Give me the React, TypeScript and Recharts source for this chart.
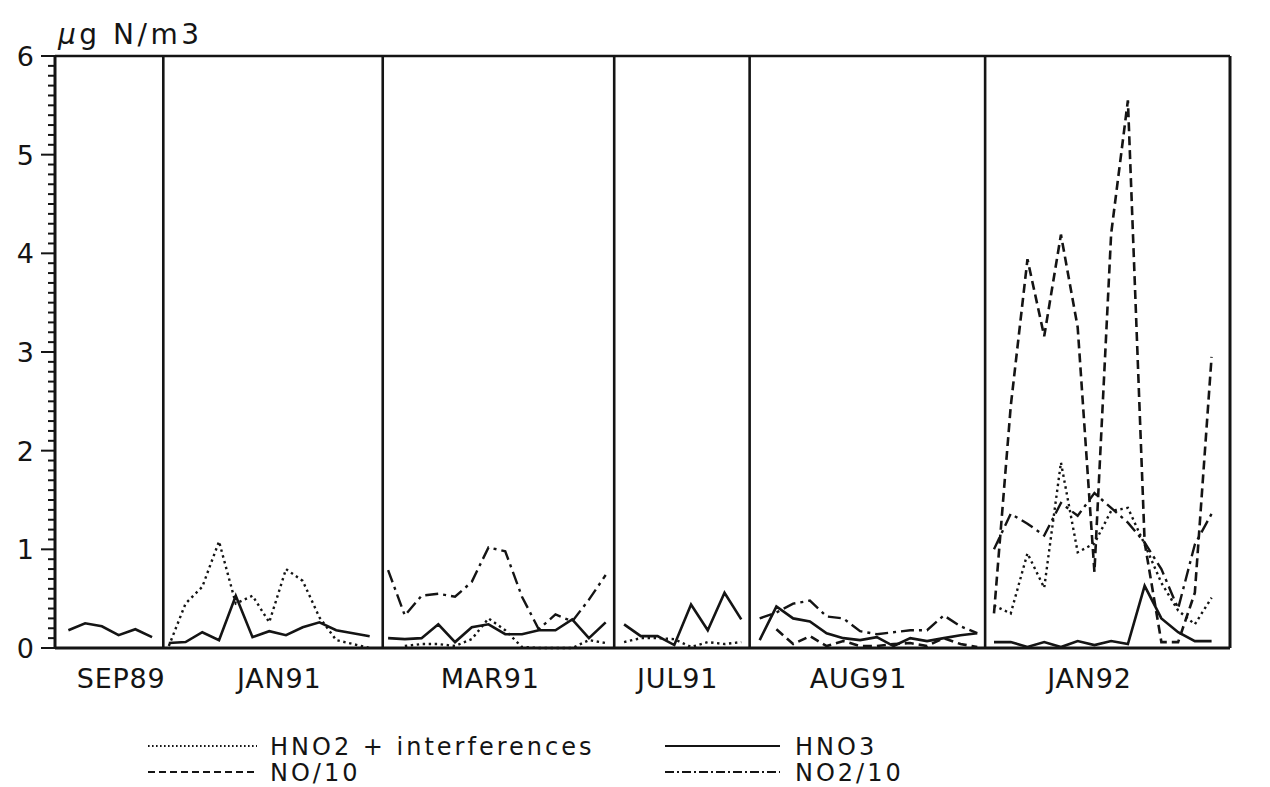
import React from 'react';
import { LineChart, Line, XAxis, YAxis, ReferenceLine, Legend } from 'recharts';

// Measurement campaigns and the sample position of each campaign's first sample
const campaigns = ['SEP89', 'JAN91', 'MAR91', 'JUL91', 'AUG91', 'JAN92'];
const campaignStart = [0.8, 6.8, 19.9, 34.0, 42.1, 56.1];
// Panel separators between campaigns, and the right end of the axis
const panelEdges = [6.47, 19.58, 33.41, 41.5, 55.57];
const axisEnd = 70.2;
// Where each campaign name sits under its panel
const campaignLabelPos = [3.95, 13.4, 26.0, 37.2, 48.0, 61.8];

// Y axis labels (µg N/m3)
const yLabels = [0, 1, 2, 3, 4, 5, 6];

// Concentrations per campaign (µg N/m3); null = no value for that sample
const hno2: (number | null)[][] = [
  [],
  [0.02, 0.45, 0.62, 1.08, 0.45, 0.53, 0.26, 0.8, 0.68, 0.31, 0.08, 0.04, 0.0],
  [null, 0.02, 0.04, 0.04, 0.02, 0.09, 0.3, 0.18, 0.01, 0.0, 0.0, 0.0, 0.08, 0.05],
  [0.06, 0.1, 0.1, 0.09, 0.01, 0.06, 0.04, 0.06],
  [],
  [0.43, 0.35, 0.96, 0.61, 1.88, 0.97, 1.06, 1.39, 1.42, 1.05, 0.66, 0.38, 0.24, 0.51],
];

const hno3: (number | null)[][] = [
  [0.18, 0.25, 0.22, 0.13, 0.19, 0.11],
  [0.05, 0.06, 0.16, 0.08, 0.53, 0.11, 0.17, 0.13, 0.21, 0.26, 0.18, 0.15, 0.12],
  [0.1, 0.09, 0.1, 0.24, 0.06, 0.21, 0.24, 0.14, 0.14, 0.18, 0.18, 0.29, 0.1, 0.26],
  [0.24, 0.12, 0.12, 0.03, 0.44, 0.18, 0.56, 0.29],
  [0.08, 0.42, 0.3, 0.27, 0.15, 0.1, 0.08, 0.11, 0.02, 0.1, 0.07, 0.1, 0.13, 0.15],
  [0.06, 0.06, 0.01, 0.06, 0.01, 0.07, 0.03, 0.07, 0.04, 0.63, 0.3, 0.16, 0.07, 0.07],
];

const no10: (number | null)[][] = [
  [],
  [],
  [],
  [],
  [null, 0.19, 0.04, 0.12, 0.02, 0.07, 0.02, 0.02, 0.04, 0.05, 0.02, 0.1, 0.04, 0.01],
  [0.35, 2.45, 3.94, 3.16, 4.19, 3.25, 0.77, 4.2, 5.55, 1.07, 0.06, 0.06, 0.56, 2.95],
];

const no2_10: (number | null)[][] = [
  [],
  [],
  [0.79, 0.33, 0.53, 0.55, 0.52, 0.67, 1.02, 0.98, 0.52, 0.19, 0.34, 0.27, 0.49, 0.74],
  [],
  [0.3, 0.36, 0.45, 0.48, 0.32, 0.3, 0.17, 0.14, 0.16, 0.18, 0.18, 0.33, 0.22, 0.15],
  [1.0, 1.36, 1.26, 1.14, 1.47, 1.34, 1.57, 1.42, 1.27, 1.07, 0.8, 0.4, 1.05, 1.36],
];

type Row = { x: number; hno2: number | null; hno3: number | null; no: number | null; no2: number | null };

// One row per sample; a blank row at each separator keeps campaigns unconnected
const rows: Row[] = [];
campaigns.forEach((_, p) => {
  const n = Math.max(hno2[p].length, hno3[p].length, no10[p].length, no2_10[p].length);
  for (let i = 0; i < n; i++) {
    rows.push({
      x: campaignStart[p] + i,
      hno2: hno2[p][i] ?? null,
      hno3: hno3[p][i] ?? null,
      no: no10[p][i] ?? null,
      no2: no2_10[p][i] ?? null,
    });
  }
  if (p < panelEdges.length) {
    rows.push({ x: panelEdges[p], hno2: null, hno3: null, no: null, no2: null });
  }
});

const INK = '#141414';
const FONT = '"DejaVu Sans", Verdana, sans-serif';

const seriesStyles = [
  { key: 'hno2', name: 'HNO2 + interferences', dash: '2.4 3.6', width: 2.4, legendDash: '1.6 2.4', legendWidth: 1.8 },
  { key: 'no', name: 'NO/10', dash: '9 5', width: 2.6, legendDash: '7 4', legendWidth: 2 },
  { key: 'hno3', name: 'HNO3', dash: undefined as string | undefined, width: 2.6, legendDash: undefined as string | undefined, legendWidth: 2 },
  { key: 'no2', name: 'NO2/10', dash: '13 5 3 5', width: 2.4, legendDash: '9 3 2 3', legendWidth: 2 },
];

// minor ticks every 0.1, majors at the integers
const yTicks: number[] = [];
for (let i = 0; i <= 60; i++) yTicks.push(i / 10);

const isMajor = (v: number) => Math.abs(v - Math.round(v)) < 1e-6;

const LeftTick = (props: any) => {
  const { x, y, payload } = props;
  const v = payload.value as number;
  const major = isMajor(v);
  const label = yLabels.find((l) => Math.abs(l - v) < 1e-6);
  return (
    <g>
      <line x1={x} x2={x - (major ? 14 : 7)} y1={y} y2={y} stroke={INK} strokeWidth={2} />
      {major && label !== undefined && (
        <text x={x - 21} y={y} dy={10} textAnchor="end" fontFamily={FONT} fontSize={27} fill={INK}>
          {label}
        </text>
      )}
    </g>
  );
};

const RightTick = (props: any) => {
  const { x, y, payload } = props;
  const v = payload.value as number;
  const major = isMajor(v);
  const label = yLabels.find((l) => Math.abs(l - v) < 1e-6);
  return (
    <g>
      <line x1={x} x2={x + (major ? 13 : 7)} y1={y} y2={y} stroke={INK} strokeWidth={2} />
      {major && label !== undefined && (
        <text x={x + 24} y={y} dy={10} textAnchor="start" fontFamily={FONT} fontSize={27} fill={INK}>
          {label}
        </text>
      )}
    </g>
  );
};

const CampaignTick = (props: any) => {
  const { x, y, payload } = props;
  const idx = campaignLabelPos.indexOf(payload.value);
  return (
    <text x={x} y={y} dy={40} textAnchor="middle" fontFamily={FONT} fontSize={27} letterSpacing={0.8} fill={INK}>
      {campaigns[idx]}
    </text>
  );
};

const UnitTitle = (props: any) => {
  const vb = props.viewBox || { x: 0, y: 56, width: 55 };
  return (
    <text x={vb.x + vb.width + 3} y={vb.y - 12} fontFamily={FONT} fontSize={28} letterSpacing={3.5} fill={INK}>
      <tspan fontStyle="italic">μ</tspan>
      <tspan>g N/m3</tspan>
    </text>
  );
};

const LegendBox = () => {
  const rowsY = [21, 47];
  const cols = [
    { lineX: 148, lineEnd: 257, textX: 270 },
    { lineX: 665, lineEnd: 780, textX: 795 },
  ];
  // left column holds HNO2 and NO/10, right column HNO3 and NO2/10
  return (
    <svg width={1270} height={64}>
      {seriesStyles.map((s, i) => {
        const col = cols[Math.floor(i / 2)];
        const y = rowsY[i % 2];
        return (
          <g key={s.key}>
            <line
              x1={col.lineX}
              x2={col.lineEnd}
              y1={y}
              y2={y}
              stroke={INK}
              strokeWidth={s.legendWidth}
              strokeDasharray={s.legendDash}
            />
            <text x={col.textX} y={y} dy={9} fontFamily={FONT} fontSize={24} letterSpacing={3} fill={INK}>
              {s.name}
            </text>
          </g>
        );
      })}
    </svg>
  );
};

export default function App() {
  return (
    <div style={{ position: 'absolute', left: 0, top: 0, width: 1270, height: 787, background: '#fff' }}>
      <LineChart width={1270} height={787} data={rows} margin={{ top: 56, right: 0, bottom: 0, left: 0 }}>
        <XAxis
          dataKey="x"
          type="number"
          domain={[0, axisEnd]}
          ticks={campaignLabelPos}
          interval={0}
          tick={<CampaignTick />}
          tickLine={false}
          tickSize={0}
          tickMargin={0}
          height={139}
          axisLine={{ stroke: INK, strokeWidth: 3 }}
          allowDataOverflow
        />
        <YAxis
          yAxisId="left"
          type="number"
          domain={[0, 6]}
          ticks={yTicks}
          interval={0}
          width={55}
          tick={<LeftTick />}
          tickLine={false}
          tickSize={0}
          tickMargin={0}
          axisLine={{ stroke: INK, strokeWidth: 3 }}
          label={<UnitTitle />}
        />
        <YAxis
          yAxisId="right"
          orientation="right"
          type="number"
          domain={[0, 6]}
          ticks={yTicks}
          interval={0}
          width={40}
          tick={<RightTick />}
          tickLine={false}
          tickSize={0}
          tickMargin={0}
          axisLine={{ stroke: INK, strokeWidth: 3 }}
        />
        <ReferenceLine yAxisId="left" y={6} stroke={INK} strokeWidth={2.6} />
        {panelEdges.map((e) => (
          <ReferenceLine key={e} yAxisId="left" x={e} stroke={INK} strokeWidth={2.6} />
        ))}
        {seriesStyles.map((s) => (
          <Line
            key={s.key}
            yAxisId="left"
            type="linear"
            dataKey={s.key}
            name={s.name}
            stroke={INK}
            strokeWidth={s.width}
            strokeDasharray={s.dash}
            dot={false}
            activeDot={false}
            connectNulls={false}
            isAnimationActive={false}
          />
        ))}
        <Legend
          layout="horizontal"
          verticalAlign="middle"
          align="center"
          wrapperStyle={{ left: 0, top: 725, width: 1270 }}
          content={<LegendBox />}
        />
      </LineChart>
    </div>
  );
}
